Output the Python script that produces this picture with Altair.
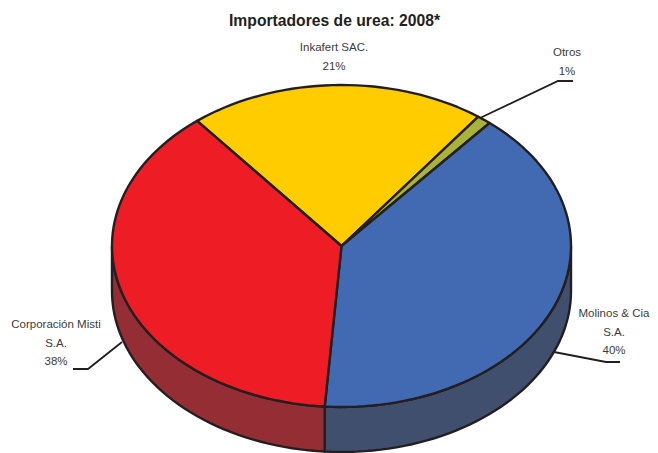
import math
import altair as alt
import pandas as pd

TITLE = "Importadores de urea: 2008*"
names = ["Inkafert SAC.", "Otros", "Molinos & Cia S.A.", "Corporación Misti S.A."]
shares = [21, 1, 40, 38]
top_colors = ["#ffcc00", "#a9b338", "#426ab3", "#ee1c25"]
side_colors = ["#b89400", "#7d8529", "#404f6d", "#952e34"]
label_lines = [["Inkafert SAC.", "21%"], ["Otros", "1%"],
               ["Molinos & Cia", "S.A.", "40%"], ["Corporación Misti", "S.A.", "38%"]]

# layout, in picture pixels
CX, CY, RX, RY, DEPTH = 341.5, 246, 229.5, 161, 45
START = -39
TOP = 38
W, H = 642, 415
label_anchor = [(334, 48), (567, 53), (614, 314), (56, 325)]
LINE_GAP = 18.5
leaders = [None,
           [(480, 118), (558, 81), (573, 81)],
           [(554, 352), (606, 362), (620, 362)],
           [(122, 342), (88, 369), (73, 369)]]


def pt(a, dy=0):
    r = math.radians(a)
    return CX + RX * math.sin(r), CY - RY * math.cos(r) + dy


tops, sides = [], []
a0 = START
for name, share in zip(names, shares):
    a1 = a0 + share * 3.6
    n = max(2, int((a1 - a0) / 2))
    arc = [a0 + (a1 - a0) * i / n for i in range(n + 1)]
    poly = [(CX, CY)] + [pt(a) for a in arc] + [(CX, CY)]
    for i, (x, y) in enumerate(poly):
        tops.append({"name": name, "i": i, "x": x, "y": y})
    lo, hi = max(a0, 90), min(a1, 270)
    if hi > lo:
        n = max(2, int((hi - lo) / 2))
        arc = [lo + (hi - lo) * i / n for i in range(n + 1)]
        poly = [pt(a) for a in arc] + [pt(a, DEPTH) for a in reversed(arc)]
        poly.append(poly[0])
        for i, (x, y) in enumerate(poly):
            sides.append({"name": name, "i": i, "x": x, "y": y})
    a0 = a1

labels = []
for lines, (lx, ly) in zip(label_lines, label_anchor):
    for k, t in enumerate(lines):
        labels.append({"x": lx, "y": ly + k * LINE_GAP, "t": t})

lead = []
for name, pts in zip(names, leaders):
    if pts:
        for i, (x, y) in enumerate(pts):
            lead.append({"name": name, "i": i, "x": x, "y": y})

xs = alt.Scale(domain=[8, 8 + W], nice=False, zero=False)
ys = alt.Scale(domain=[TOP + H, TOP], nice=False, zero=False)
X = alt.X("x:Q", scale=xs, axis=None)
Y = alt.Y("y:Q", scale=ys, axis=None)
INK = "#231f20"


def polys(rows, colors):
    return alt.Chart(pd.DataFrame(rows)).mark_line(
        stroke=INK, strokeWidth=2.4, strokeJoin="round"
    ).encode(
        x=X, y=Y, order="i:Q",
        fill=alt.Fill("name:N", scale=alt.Scale(domain=names, range=colors), legend=None),
        detail="name:N",
    )


side_layer = polys(sides, side_colors)
top_layer = polys(tops, top_colors)
lead_layer = alt.Chart(pd.DataFrame(lead)).mark_line(
    stroke=INK, strokeWidth=1.8).encode(x=X, y=Y, order="i:Q", detail="name:N")
text_layer = alt.Chart(pd.DataFrame(labels)).mark_text(
    font="Liberation Sans", fontSize=11.5, color="#3c3c3c",
    align="center", baseline="middle").encode(x=X, y=Y, text="t:N")

chart = alt.layer(side_layer, top_layer, lead_layer, text_layer).resolve_scale(
    fill="independent"
).properties(
    width=W, height=H,
    title=alt.TitleParams(TITLE, font="Liberation Sans", fontSize=15.7,
                          fontWeight="bold", color="#231f20", anchor="start",
                          offset=8, dx=221),
    autosize=alt.AutoSizeParams(type="none"),
    padding={"left": 0, "right": 0, "top": 30, "bottom": 0},
).configure_view(stroke=None)

chart.save("out.html", embed_options={"renderer": "svg", "actions": False})
